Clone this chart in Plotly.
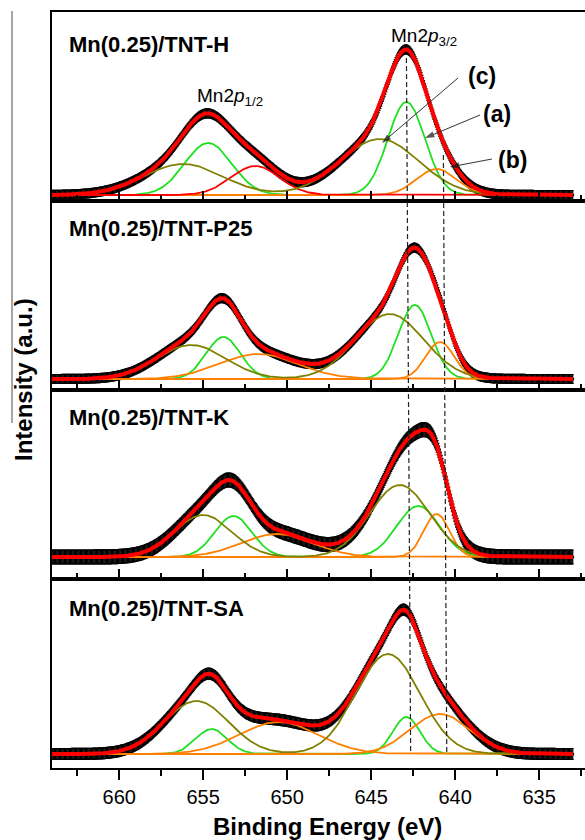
import numpy as np
import plotly.graph_objects as go
from plotly.subplots import make_subplots

# ---------------- data ----------------
panel_labels = ["Mn(0.25)/TNT-H", "Mn(0.25)/TNT-P25", "Mn(0.25)/TNT-K", "Mn(0.25)/TNT-SA"]

# component (a) - green
a_center_32 = [642.9, 642.4, 642.2, 642.9]
a_height_32 = [93, 74, 51, 37]
a_fwhm_32 = [2.6, 2.3, 3.0, 1.9]
a_center_12 = [654.7, 653.8, 653.2, 654.5]
a_height_12 = [52, 42, 41, 25]
a_fwhm_12 = [3.3, 2.4, 2.6, 2.2]
# component (c) - olive
c_center_32 = [644.5, 643.9, 643.3, 644.0]
c_height_32 = [56, 65, 72, 100]
c_fwhm_32 = [5.5, 4.8, 4.2, 4.5]
c_center_12 = [656.2, 655.7, 655.0, 655.4]
c_height_12 = [31, 34, 42, 53]
c_fwhm_12 = [5.5, 4.8, 4.0, 4.5]
# component (b) - orange
b_center_32 = [641.1, 640.9, 641.1, 640.9]
b_height_32 = [26, 37, 43, 40]
b_fwhm_32 = [2.8, 2.0, 1.8, 4.2]
b_center_12 = [651.9, 651.7, 650.6, 650.5]
b_height_12 = [29, 25, 23, 32]
b_fwhm_12 = [3.4, 5.5, 5.0, 5.5]
b12_colors = ["#ff0000", "#ff8000", "#ff8000", "#ff8000"]

noise_halfwidth = [4.5, 4.5, 7, 5.5]
y_ranges = [[-6, 183], [-11, 178], [-22, 167], [-14, 175]]

energy_min, energy_max = 633.0, 664.0
x_range = [664.0, 632.27]
dashed_lines = [(642.9, 642.65, 58), (640.7, 640.5, 155)]

# arrows for (c), (a), (b) in panel-1 coordinates: tail -> head
arrow_tail_x = [639.83, 638.52, 637.81]
arrow_tail_y = [117, 80, 36]
arrow_head_x = [644.36, 641.8, 640.31]
arrow_head_y = [52, 57, 28]

# ---------------- helpers ----------------
FONT = "Liberation Sans, Arial, sans-serif"
GREEN, OLIVE, ORANGE, RED = "#1fe01f", "#808000", "#ff8000", "#ff0000"

x = np.arange(energy_min, energy_max + 1e-9, 0.05)


def peak(c, h, w):
    return h * np.exp(-4 * np.log(2) * ((x - c) / w) ** 2)


fig = make_subplots(rows=4, cols=1, shared_xaxes=True, vertical_spacing=0)

for i in range(4):
    r = i + 1
    ga = peak(a_center_32[i], a_height_32[i], a_fwhm_32[i]) + peak(a_center_12[i], a_height_12[i], a_fwhm_12[i])
    oc = peak(c_center_32[i], c_height_32[i], c_fwhm_32[i]) + peak(c_center_12[i], c_height_12[i], c_fwhm_12[i])
    b32 = peak(b_center_32[i], b_height_32[i], b_fwhm_32[i])
    b12 = peak(b_center_12[i], b_height_12[i], b_fwhm_12[i])
    fit = ga + oc + b32 + b12

    fig.add_trace(go.Scatter(
        x=x, y=fit, mode="markers",
        marker=dict(color="black", size=3),
        error_y=dict(type="constant", value=noise_halfwidth[i], color="black", thickness=1.2, width=1),
        hoverinfo="skip", showlegend=False), row=r, col=1)
    fig.add_trace(go.Scatter(x=x, y=ga, mode="lines", line=dict(color=GREEN, width=1.8),
                             showlegend=False), row=r, col=1)
    fig.add_trace(go.Scatter(x=x, y=b32, mode="lines", line=dict(color=ORANGE, width=1.8),
                             showlegend=False), row=r, col=1)
    fig.add_trace(go.Scatter(x=x, y=b12, mode="lines", line=dict(color=b12_colors[i], width=1.8),
                             showlegend=False), row=r, col=1)
    fig.add_trace(go.Scatter(x=x, y=oc, mode="lines", line=dict(color=OLIVE, width=1.8),
                             showlegend=False), row=r, col=1)
    fig.add_trace(go.Scatter(x=x, y=fit, mode="lines", line=dict(color=RED, width=4),
                             showlegend=False), row=r, col=1)

    bottom = (r == 4)
    fig.update_xaxes(
        row=r, col=1, range=x_range, autorange=False,
        showline=True, linecolor="black", linewidth=2, mirror=True,
        showgrid=False, zeroline=False,
        tick0=660, dtick=5, ticks="outside" if bottom else "inside",
        ticklen=10, tickwidth=1.6, tickcolor="black",
        minor=dict(dtick=2.5, tick0=660, ticks="outside" if bottom else "inside",
                   ticklen=6, tickwidth=1.6, tickcolor="black", showgrid=False),
        showticklabels=bottom,
        tickfont=dict(family=FONT, size=20, color="black"),
    )
    fig.update_yaxes(
        row=r, col=1, range=y_ranges[i], autorange=False,
        showline=True, linecolor="black", linewidth=2, mirror=False,
        showgrid=False, zeroline=False, ticks="", showticklabels=False,
    )

# arrows as line + arrow-head markers in panel 1
for tx, ty, hx, hy in zip(arrow_tail_x, arrow_tail_y, arrow_head_x, arrow_head_y):
    fig.add_trace(go.Scatter(
        x=[tx, hx], y=[ty, hy], mode="lines+markers",
        line=dict(color="#333333", width=1),
        marker=dict(symbol=["circle", "arrow"], size=[0, 10], color="#111111",
                    angleref="previous", line=dict(width=0)),
        hoverinfo="skip", showlegend=False), row=1, col=1)

# panel labels
label_y = [45, 228, 417, 608]
PLOT_L, PLOT_B, PLOT_H, PLOT_W = 52, 768, 756, 533


def px(xp):
    return (xp - PLOT_L) / PLOT_W


def py(yp):
    return (PLOT_B - yp) / PLOT_H


def note(text, xp, yp, size, bold=False, xanchor="center", angle=0):
    f = dict(family=FONT, size=size, color="black")
    if bold:
        f["weight"] = "bold"
    return dict(text=text, x=px(xp), y=py(yp), xref="paper", yref="paper",
                xanchor=xanchor, yanchor="middle", showarrow=False, textangle=angle, font=f)


annotations = []
for lab, yy in zip(panel_labels, label_y):
    annotations.append(note(lab, 67, yy, 22, bold=True, xanchor="left"))

annotations += [
    note("Mn2<i>p</i><sub>1/2</sub>", 195, 97, 19, xanchor="left"),
    note("Mn2<i>p</i><sub>3/2</sub>", 389, 37, 19, xanchor="left"),
    note("(c)", 482, 76, 23, bold=True),
    note("(a)", 497, 114, 23, bold=True),
    note("(b)", 512, 160, 23, bold=True),
    note("Binding Energy (eV)", 327, 826, 24, bold=True),
    note("Intensity (a.u.)", 23, 380, 24, bold=True, angle=-90),
]

shapes = []
for xt, xb, ytop in dashed_lines:
    shapes.append(dict(type="line", xref="x", yref="paper", x0=xt, x1=xb, y0=py(ytop), y1=py(752),
                       line=dict(color="#222", width=1.2, dash="5px,3px")))
shapes.append(dict(type="line", xref="paper", yref="paper", x0=px(12), x1=px(12), y0=py(11), y1=py(423),
                   line=dict(color="#888888", width=1.5)))

fig.update_layout(
    width=585, height=840,
    margin=dict(l=52, r=0, t=12, b=72),
    paper_bgcolor="white", plot_bgcolor="white",
    annotations=annotations, shapes=shapes,
    font=dict(family=FONT, color="black"),
    showlegend=False,
)

fig.write_html("out.html")
